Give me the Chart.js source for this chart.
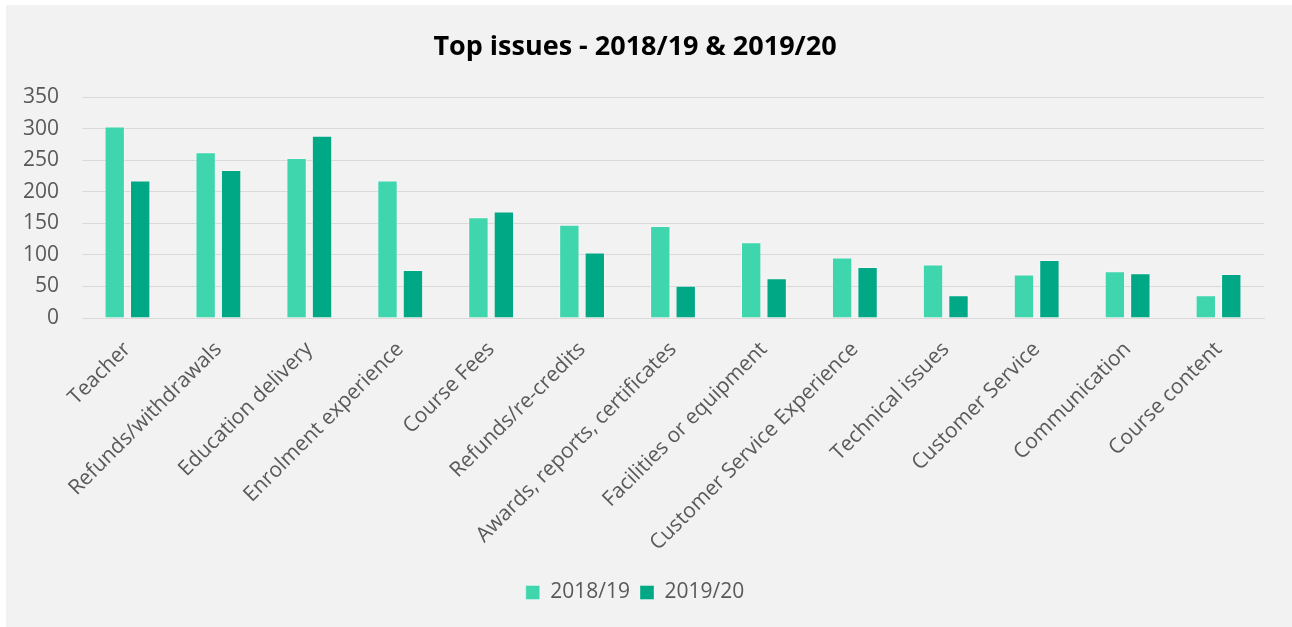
<!DOCTYPE html>
<html>
<head>
<meta charset="utf-8">
<script src="https://cdn.jsdelivr.net/npm/chart.js@4.4.1/dist/chart.umd.min.js"></script>
<style>
  body { margin: 0; background: #ffffff; }
  #box { position: absolute; left: 6px; top: 5px; width: 1286px; height: 622px; background: #f2f2f2; }
</style>
</head>
<body>
<div id="box"><canvas id="issues-chart" width="1286" height="622"></canvas></div>
<script>
// data
const categories = [
  "Teacher", "Refunds/withdrawals", "Education delivery", "Enrolment experience",
  "Course Fees", "Refunds/re-credits", "Awards, reports, certificates",
  "Facilities or equipment", "Customer Service Experience", "Technical issues",
  "Customer Service", "Communication", "Course content"
];
const values1819 = [304, 263, 254, 218, 160, 148, 146, 120, 96, 85, 69, 74, 36];
const values1920 = [218, 235, 289, 76, 169, 104, 51, 63, 81, 36, 92, 71, 70];
const yTicks = [0, 50, 100, 150, 200, 250, 300, 350];

const labelGrey = "#595959";

new Chart(document.getElementById("issues-chart"), {
  type: "bar",
  data: {
    labels: categories,
    datasets: [
      {
        label: "2018/19",
        backgroundColor: "#3fd6ae",
        borderColor: "rgba(255,255,255,0.35)",
        borderWidth: 1,
        data: values1819,
      },
      {
        label: "2019/20",
        backgroundColor: "#00a886",
        borderColor: "rgba(255,255,255,0.35)",
        borderWidth: 1,
        data: values1920,
      },
    ],
  },
  options: {
    responsive: false,
    animation: false,
    categoryPercentage: 0.56,
    barPercentage: 0.8,
    layout: { padding: { left: 0, right: 28, top: 0, bottom: 14 } },
    plugins: {
      title: {
        display: true,
        text: "Top issues - 2018/19 & 2019/20",
        color: "#000000",
        font: { family: "Open Sans", size: 27, weight: "bold" },
        padding: { top: 26, bottom: 34 },
      },
      legend: {
        position: "bottom",
        labels: {
          color: labelGrey,
          font: { family: "Open Sans", size: 21 },
          boxWidth: 14,
          boxHeight: 14,
          padding: 10,
        },
      },
      tooltip: { enabled: false },
    },
    scales: {
      x: {
        afterFit: (scale) => { scale.height = 254; },
        grid: { display: false },
        border: { display: true, color: "#d9d9d9", width: 1 },
        ticks: {
          color: labelGrey,
          font: { family: "Open Sans", size: 21 },
          minRotation: 45,
          maxRotation: 45,
          padding: 11,
        },
      },
      y: {
        min: 0,
        max: 350,
        afterBuildTicks: (scale) => { scale.ticks = yTicks.map((v) => ({ value: v })); },
        afterFit: (scale) => { scale.width = 76; },
        grid: { color: "#d9d9d9", lineWidth: 1, drawTicks: false },
        border: { display: false },
        ticks: {
          color: labelGrey,
          font: { family: "Open Sans", size: 21 },
          padding: 23,
        },
      },
    },
  },
});
</script>
</body>
</html>
